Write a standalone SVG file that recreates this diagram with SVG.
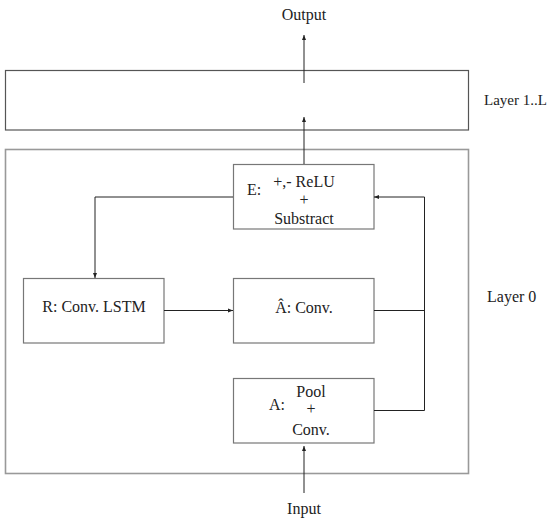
<svg xmlns="http://www.w3.org/2000/svg" width="552" height="520" viewBox="0 0 552 520">
<style>
text{font-family:"Liberation Serif","Times New Roman",serif;font-size:16px;fill:#222}
.mid{text-anchor:middle}
.box{fill:#fff;stroke:#777;stroke-width:1.2}
.layer1{fill:none;stroke:#555;stroke-width:1.2}
.layer0{fill:none;stroke:#999;stroke-width:1.6}
.conn{fill:none;stroke:#222;stroke-width:1}
</style>
<defs>
<marker id="ah" markerWidth="6" markerHeight="6" refX="5" refY="3" orient="auto" markerUnits="userSpaceOnUse">
<path d="M0,1 L5,3 L0,5 Z" fill="#222"/>
</marker>
</defs>
<g id="layer1">
<rect class="layer1" x="5.5" y="70.5" width="463" height="59.5"/>
<text x="484" y="105" style="font-size:15px">Layer 1..L</text>
</g>
<g id="layer0">
<rect class="layer0" x="5.5" y="149.5" width="463" height="324"/>
<text x="487" y="302">Layer 0</text>
</g>
<g id="output"><text class="mid" x="304" y="20">Output</text></g>
<g id="input"><text class="mid" x="304" y="514">Input</text></g>
<g id="E">
<rect class="box" x="233.5" y="164.5" width="140.5" height="64.5"/>
<text x="247" y="195">E:</text>
<text class="mid" x="304" y="187">+,- ReLU</text>
<text class="mid" x="304" y="205">+</text>
<text class="mid" x="304" y="224">Substract</text>
</g>
<g id="R">
<rect class="box" x="23.5" y="278.5" width="140.5" height="64.5"/>
<text class="mid" x="94" y="312">R: Conv. LSTM</text>
</g>
<g id="Ahat">
<rect class="box" x="233.5" y="278.5" width="140.5" height="64.5"/>
<text class="mid" x="304" y="313">Â: Conv.</text>
</g>
<g id="A">
<rect class="box" x="233.5" y="378.5" width="140.5" height="64.5"/>
<text x="269" y="410">A:</text>
<text class="mid" x="311" y="397">Pool</text>
<text class="mid" x="311" y="414">+</text>
<text class="mid" x="311" y="435">Conv.</text>
</g>
<g id="connectors">
<line class="conn" x1="304" y1="83" x2="304" y2="35" marker-end="url(#ah)"/>
<line class="conn" x1="304" y1="164" x2="304" y2="117" marker-end="url(#ah)"/>
<line class="conn" x1="304" y1="493" x2="304" y2="446" marker-end="url(#ah)"/>
<polyline class="conn" points="233,197 95,197 95,278" marker-end="url(#ah)"/>
<line class="conn" x1="164" y1="310.5" x2="233" y2="310.5" marker-end="url(#ah)"/>
<polyline class="conn" points="374,310.5 424,310.5"/>
<polyline class="conn" points="374,410.5 424.5,410.5 424.5,197 374,197" marker-end="url(#ah)"/>
</g>
</svg>
